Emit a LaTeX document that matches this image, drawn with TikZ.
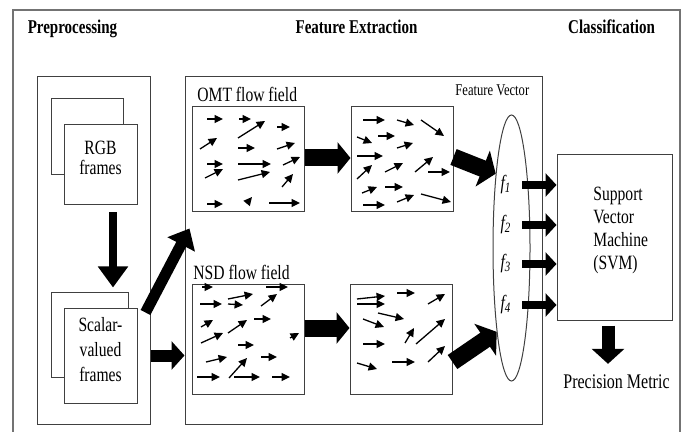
\documentclass[tikz,border=0pt]{standalone}
\usepackage{fontspec}
\setmainfont{Liberation Serif}
\usepackage{graphicx}
\usetikzlibrary{arrows.meta,fit,shapes.geometric,calc}
\newcommand{\tall}[1]{\scalebox{1}[1.3]{#1}}
\tikzset{
	rim/.style={draw=black!55, line width=1pt},
	frame/.style={draw=black!75, line width=0.5pt, inner sep=0pt},
	paper/.style={frame, fill=white},
	head/.style={font=\fontsize{7.5}{9}\selectfont\bfseries, anchor=base, inner sep=0pt},
	txt/.style={font=\fontsize{7.8}{10}\selectfont, inner sep=0pt},
	flow/.style={line width=0.65pt, -{Triangle[length=4.2pt,width=4pt]}},
	fat/.style args={#1/#2/#3}{line width=#1, -{Triangle[width=#2,length=#3]}}
}

\begin{document}
\begin{tikzpicture}[x=0.5pt, y=-0.5pt]
			%%%%% START %%%%%
			\useasboundingbox (0,0) rectangle (684,432);
			\draw[rim] (13,432) -- (13,10) -- (680,10) -- (680,432);
			
			\node[head] (hprep) at (72.5,34) {\tall{Preprocessing}};
			\node[head] (hfeat) at (356.5,34) {\tall{Feature Extraction}};
			\node[head] (hclass) at (611.5,34) {\tall{Classification}};
			
			% preprocessing
			\node[frame, fit={(37,77) (150,424)}] (prep) {};
			\node[frame, fit={(51,99) (123,175)}] (rgbback) {};
			\node[paper, fit={(64,125) (137,205)}] (rgb) {};
			\node[txt, align=center] (rgbtxt) at (100.5,158) {\tall{RGB}\\\tall{frames}};
			\node[frame, fit={(51,293) (128,377)}] (scalback) {};
			\node[paper, fit={(64,308) (137,403)}] (scal) {};
			\node[txt, align=center, font=\fontsize{7.8}{12.5}\selectfont] (scaltxt) at (100.5,350) {\tall{Scalar-}\\\tall{valued}\\\tall{frames}};
			
			% feature extraction
			\node[frame, fit={(185,77) (542,424)}] (feat) {};
			\node[txt, anchor=base west] (omtlbl) at (197,102) {\tall{OMT flow field}};
			\node[frame, fit={(192,107) (304,212)}] (omtA) {};
			\node[frame, fit={(351,107) (453,212)}] (omtB) {};
			\node[txt, anchor=base west] (nsdlbl) at (193,279) {\tall{NSD flow field}};
			\node[frame, fit={(192,285) (304,394)}] (nsdA) {};
			\node[frame, fit={(350,285) (452,394)}] (nsdB) {};
			\node[txt, anchor=base west, font=\fontsize{6.3}{8}\selectfont] (fvlbl) at (455,96) {\tall{Feature Vector}};
			
			\node[frame, ellipse, minimum width=18.5pt, minimum height=133pt] (fv) at (511.5,248) {};
			\node[txt] (f1) at (506,185) {\tall{\textit{f\textsubscript{1}}}};
			\node[txt] (f2) at (506,225) {\tall{\textit{f\textsubscript{2}}}};
			\node[txt] (f3) at (506,264) {\tall{\textit{f\textsubscript{3}}}};
			\node[txt] (f4) at (506,305) {\tall{\textit{f\textsubscript{4}}}};
			
			% classification
			\node[frame, fit={(557,155) (672,320)}] (svm) {};
			\node[txt, anchor=north west, font=\fontsize{7.8}{8.85}\selectfont] (svmtxt) at (593,184)
				{\tall{\begin{tabular}{@{}l@{}}Support\\Vector\\Machine\\(SVM)\end{tabular}}};
			\node[txt, anchor=base, font=\fontsize{8}{10}\selectfont] (metric) at (616.5,388) {\tall{Precision Metric}};
			
			% flow fields
			\foreach \a/\b/\c/\d in {207/119/223/119, 239/119/251/119, 238/138/265/121, 277/127/290/127,
				200/149/217/138, 238/148/255/148, 277/149/295/143, 207/164/223/164, 238/164/271/164,
				283/165/300/157, 205/178/223/169, 238/180/270/172, 282/187/293/174, 207/204/223/204,
				247/203/252/197, 269/203/300/203}
				\draw[flow] (\a,\b) -- (\c,\d);
			\foreach \a/\b/\c/\d in {363/120/385/120, 397/120/414/125, 421/120/444/136, 357/137/372/143,
				378/136/395/136, 397/148/413/143, 357/156/383/156, 357/179/372/165, 385/172/403/163,
				415/172/433/157, 428/172/450/172, 362/193/377/187, 385/187/403/187, 363/205/385/205,
				397/202/414/195, 421/194/451/202}
				\draw[flow] (\a,\b) -- (\c,\d);
			\foreach \a/\b/\c/\d in {202/287/213/287, 266/287/288/287, 200/304/222/304, 228/304/243/305,
				228/299/253/294, 261/306/277/294, 201/327/213/320, 228/333/247/320, 254/319/271/319,
				201/343/223/333, 238/345/254/345, 290/338/299/333, 206/362/227/357, 229/378/247/358,
				261/357/277/357, 197/377/220/377, 234/377/260/377, 272/377/290/377}
				\draw[flow] (\a,\b) -- (\c,\d);
			\foreach \a/\b/\c/\d in {357/299/385/296, 357/304/385/304, 397/293/415/293, 428/304/445/294,
				378/313/404/319, 363/319/384/327, 405/343/414/328, 416/344/445/319, 363/344/385/344,
				357/363/377/369, 392/362/415/362, 428/362/445/346}
				\draw[flow] (\a,\b) -- (\c,\d);
			
			% block arrows
			\draw[fat=4pt/14.5pt/10.5pt, shorten <=3.5pt, shorten >=2.5pt]
				($(rgb.south)+(6.25pt,0)$) -- ($(rgb.south |- scalback.north)+(6.25pt,0)$);
			\draw[fat=5.5pt/15pt/9pt] ($(scal.north east)+(4pt,-2.5pt)$) -- ($(omtA.south west)+(-1pt,-8pt)$);
			\draw[fat=6pt/14pt/6.5pt, shorten <=6.5pt] (scal.east) -- (scal.east -| feat.west);
			\draw[fat=8.5pt/15.5pt/6.5pt] ($(omtA.east)+(0,0.75pt)$) -- ($(omtB.west)+(0,0.75pt)$);
			\draw[fat=8.5pt/15.5pt/6.5pt] ($(nsdA.east)+(0,5.75pt)$) -- ($(nsdB.west)+(0,5.75pt)$);
			\draw[fat=8.5pt/19pt/7pt] ($(omtB.east)+(0,1.25pt)$) -- (fv.102);
			\draw[fat=8.5pt/19pt/7pt] ($(nsdB.east)+(0,-11.25pt)$) -- (fv.260);
			\foreach \f in {f1,f2,f3,f4}
				\draw[fat=4pt/11.5pt/5.5pt] ($(fv.center |- \f)+(5.25pt,0)$) -- (\f -| svm.west);
			\draw[fat=6.5pt/16pt/7.5pt, shorten <=2.5pt, shorten >=5pt]
				($(svm.south)+(-3.25pt,0)$) -- ($(svm.south |- metric.north)+(-3.25pt,0)$);
			
			%%%%% END %%%%%
\end{tikzpicture}
\end{document}
